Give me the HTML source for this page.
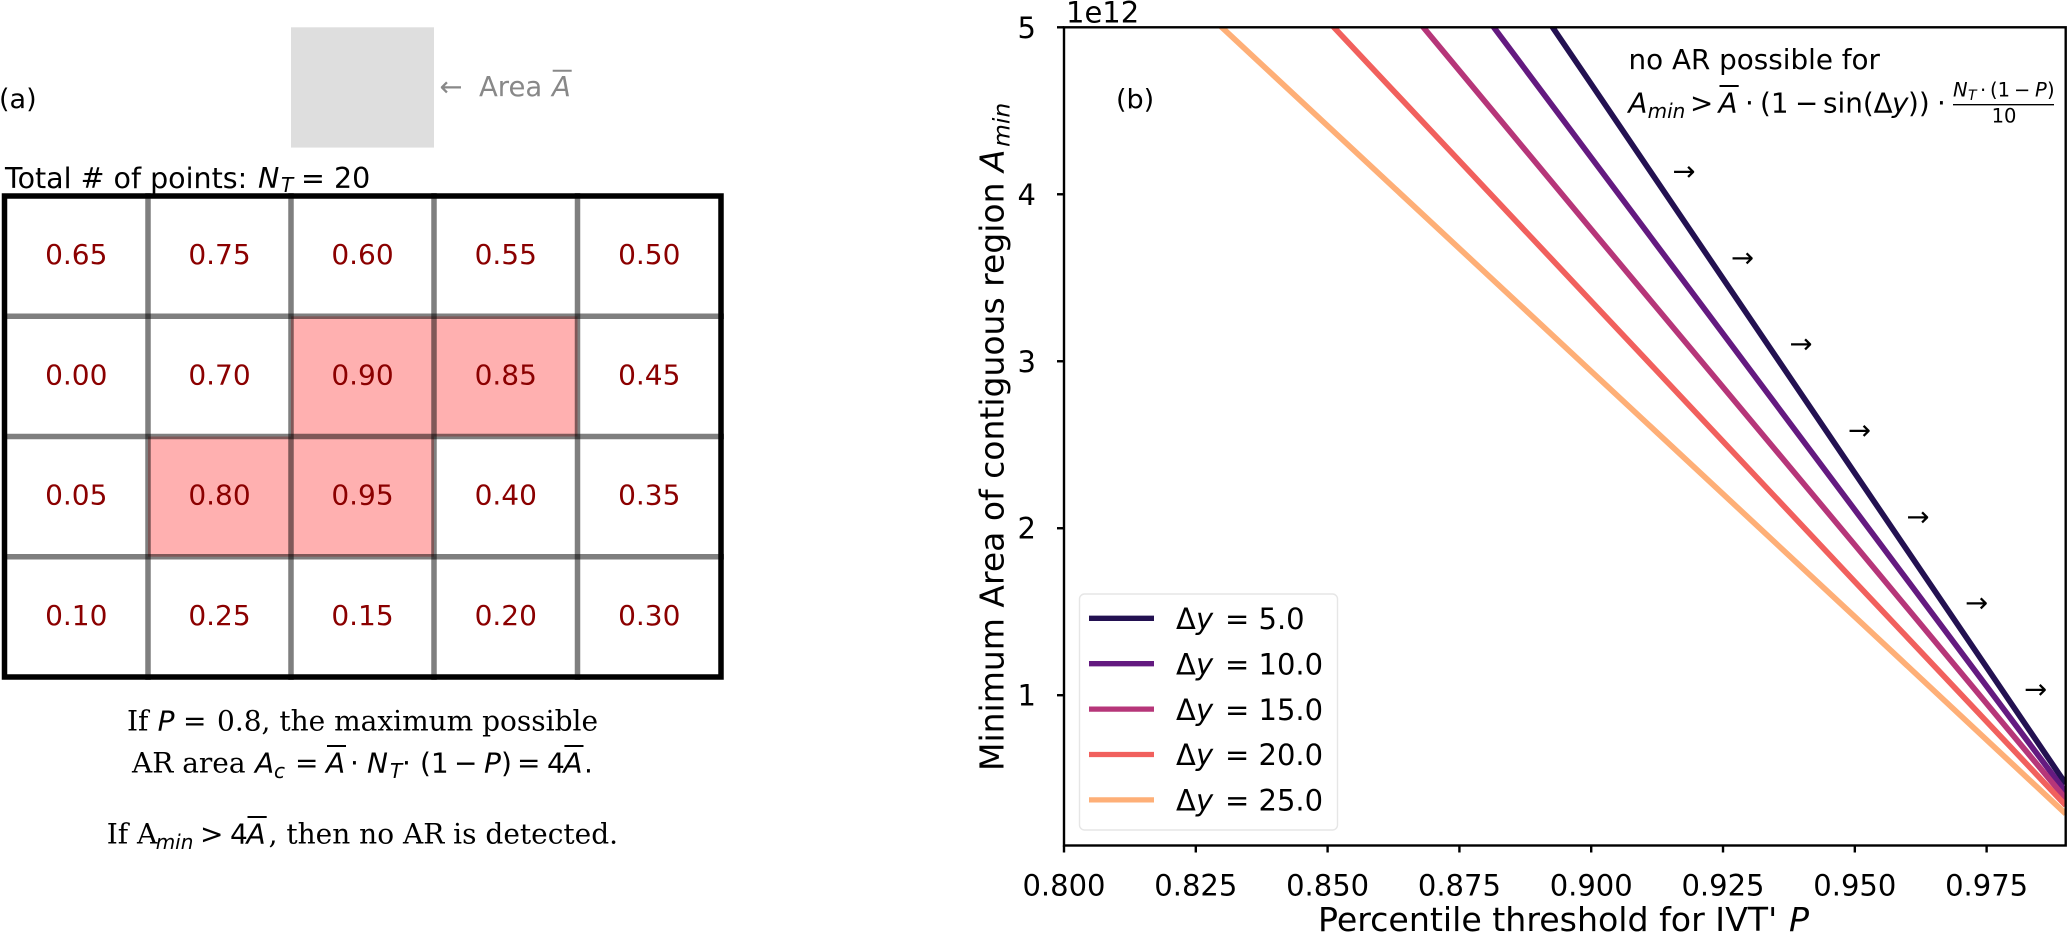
<!DOCTYPE html>
<html lang="en">
<head>
<meta charset="utf-8">
<title>AR area threshold diagram</title>
<style>
html,body{margin:0;padding:0;background:#fff;}
svg{display:block;}
text{font-family:"DejaVu Sans","Liberation Sans",sans-serif;fill:#000;}
.serif{font-family:"DejaVu Serif","Liberation Serif",serif;}
.it{font-style:italic;}
</style>
</head>
<body>
<svg id="fig" xmlns="http://www.w3.org/2000/svg" width="2067" height="934" viewBox="0 0 2067 934">
  <defs>
    <clipPath id="axes-clip"><rect x="1064" y="27.3" width="1001.7" height="818.2"/></clipPath>
  </defs>
  <rect x="0" y="0" width="2067" height="934" fill="#fff"/>

  <!-- Panel (a) -->
  <text x="-1" y="108" font-size="27">(a)</text>
  <rect x="291" y="27.3" width="143" height="120.3" fill="#dedede"/>
  <g fill="#888" font-size="27.5">
    <text x="451" y="96" text-anchor="middle" style="fill:#888">←</text>
    <text x="479" y="96" style="fill:#888">Area</text>
    <text class="it" x="552" y="96" style="fill:#888">A</text>
    <line x1="552.7" x2="571.7" y1="70.7" y2="70.7" stroke="#888" stroke-width="2"/>
  </g>
  <g font-size="28.5">
    <text x="5" y="188">Total # of points:</text>
    <text class="it" x="258" y="188">N</text>
    <text class="it" x="281" y="192" font-size="20">T</text>
    <text x="301" y="188" font-size="28.5">= 20</text>
  </g>
  <g id="grid-panel"></g>
  <g font-size="28">
    <text class="serif" x="127" y="730.7">If</text>
    <text class="it" x="157.6" y="730.7">P</text>
    <text x="183" y="730.7">=</text>
    <text class="serif" x="217" y="730.7">0.8, the maximum possible</text>
    <text class="serif" x="132" y="772.7">AR area</text>
    <text class="it" x="255" y="772.7">A</text>
    <text class="it" x="274" y="778" font-size="20">c</text>
    <text x="295" y="772.7">=</text>
    <text class="it" x="326" y="772.7">A</text>
    <line x1="327" x2="346" y1="746" y2="746" stroke="#000" stroke-width="2"/>
    <text x="350" y="772.7">·</text>
    <text class="it" x="367" y="772.7">N</text>
    <text class="it" x="390" y="778" font-size="20">T</text>
    <text x="402" y="772.7">·</text>
    <text x="420" y="772.7">(1</text>
    <text x="454" y="772.7">−</text>
    <text class="it" x="484" y="772.7">P</text>
    <text x="501" y="772.7">)</text>
    <text x="517" y="772.7">=</text>
    <text x="547" y="772.7">4</text>
    <text class="it" x="563.4" y="772.7">A</text>
    <line x1="564.4" x2="583.5" y1="746" y2="746" stroke="#000" stroke-width="2"/>
    <text x="584" y="772.7">.</text>
    <text class="serif" x="106.7" y="843.3">If A</text>
    <text class="it" x="155.7" y="849" font-size="20">min</text>
    <text x="200" y="843.3">&gt;</text>
    <text x="230" y="843.3">4</text>
    <text class="it" x="246.5" y="843.3">A</text>
    <line x1="247.5" x2="266.7" y1="817" y2="817" stroke="#000" stroke-width="2"/>
    <text class="serif" x="268.6" y="843.3">, then no AR is detected.</text>
  </g>

  <!-- Panel (b) -->
  <g id="plot-series" clip-path="url(#axes-clip)"></g>
  <g id="plot-arrows"></g>
  <g id="plot-ticks"></g>
  <rect x="1064" y="27.3" width="1001.7" height="818.2" fill="none" stroke="#000" stroke-width="2.4"/>
  <text x="1066" y="22.7" font-size="29">1e12</text>
  <text x="1116" y="108.7" font-size="27">(b)</text>
  <g transform="translate(1003.7,771) rotate(-90)" font-size="33">
    <text x="0" y="0">Minimum Area of contiguous region</text>
    <text class="it" x="599" y="0">A</text>
    <text class="it" x="624" y="6" font-size="23.5">min</text>
  </g>
  <g font-size="33.2">
    <text x="1318" y="931">Percentile threshold for IVT'</text>
    <text class="it" x="1789" y="931">P</text>
  </g>
  <g font-size="27.8">
    <text x="1628.5" y="69">no AR possible for</text>
    <text class="it" x="1628.4" y="112.7">A</text>
    <text class="it" x="1647.6" y="118" font-size="20">min</text>
    <text x="1690" y="112.7">&gt;</text>
    <text class="it" x="1718.5" y="112.7">A</text>
    <line x1="1719.5" x2="1738.7" y1="86" y2="86" stroke="#000" stroke-width="2"/>
    <text x="1745" y="112.7">·</text>
    <text x="1760" y="112.7">(1</text>
    <text x="1795" y="112.7">−</text>
    <text x="1823" y="112.7">sin(Δ</text>
    <text class="it" x="1892" y="112.7">y</text>
    <text x="1908" y="112.7">))</text>
    <text x="1937" y="112.7">·</text>
    <g font-size="19.5">
      <text class="it" x="1953" y="96.7">N</text>
      <text class="it" x="1968" y="100" font-size="14">T</text>
      <text x="1980" y="96.7">·</text>
      <text x="1990" y="96.7">(1</text>
      <text x="2014" y="96.7">−</text>
      <text class="it" x="2035" y="96.7">P</text>
      <text x="2047" y="96.7">)</text>
      <text x="2004" y="122.7" text-anchor="middle">10</text>
    </g>
    <line x1="1953" x2="2054" y1="104.7" y2="104.7" stroke="#000" stroke-width="1.4"/>
  </g>
  <g id="plot-legend"></g>
</svg>

<script>
// Panel (a) values, listed row by row
const gridValues = [
  ["0.65", "0.75", "0.60", "0.55", "0.50"],
  ["0.00", "0.70", "0.90", "0.85", "0.45"],
  ["0.05", "0.80", "0.95", "0.40", "0.35"],
  ["0.10", "0.25", "0.15", "0.20", "0.30"]
];
const highlightedCells = ["0.90", "0.85", "0.80", "0.95"];

// Panel (b) values
const percentile = [0.80, 0.85, 0.90, 0.95, 0.99];
const seriesLabels = ["5.0", "10.0", "15.0", "20.0", "25.0"];
const seriesDy5 = [9.31, 6.98, 4.66, 2.33, 0.47];
const seriesDy10 = [8.44, 6.33, 4.22, 2.11, 0.42];
const seriesDy15 = [7.58, 5.69, 3.79, 1.90, 0.38];
const seriesDy20 = [6.72, 5.04, 3.36, 1.68, 0.34];
const seriesDy25 = [5.88, 4.41, 2.94, 1.47, 0.29];
const seriesColors = ["#231151", "#641a80", "#b63679", "#f1605d", "#feaf77"];
const xTicks = [0.800, 0.825, 0.850, 0.875, 0.900, 0.925, 0.950, 0.975];
const yTicks = [1, 2, 3, 4, 5];
const arrowP = [0.9176, 0.9287, 0.9398, 0.9509, 0.9620, 0.9731, 0.9843];
const arrowA = [4.139, 3.622, 3.105, 2.588, 2.071, 1.554, 1.037];

const NS = "http://www.w3.org/2000/svg";
function make(tag, parent) {
  const el = document.createElementNS(NS, tag);
  parent.appendChild(el);
  return el;
}
function px(p) { return 1064 + (p - 0.8) / 0.19 * 1001.7; }
function py(a) { return 845.5 - (a - 0.1) / 4.9 * 818.2; }

// ---- Panel (a) grid ----
const gridGroup = document.getElementById("grid-panel");
const colX = [4.5, 148, 291, 434, 577.5, 721];
const rowY = [196, 316.3, 436.5, 556.7, 677];
gridValues.forEach(function (row, r) {
  row.forEach(function (value, c) {
    if (highlightedCells.indexOf(value) >= 0) {
      const cell = make("rect", gridGroup);
      
      
      cell.setAttribute("x", colX[c]);
      cell.setAttribute("y", rowY[r]);
      cell.setAttribute("width", colX[c + 1] - colX[c]);
      cell.setAttribute("height", rowY[r + 1] - rowY[r]);
      cell.setAttribute("fill", "#ffb0b0");
    }
  });
});
colX.slice(1, 5).forEach(function (x) {
  const l = make("line", gridGroup);
  
  
  l.setAttribute("x1", x);
  l.setAttribute("x2", x);
  l.setAttribute("y1", 193);
  l.setAttribute("y2", 680);
  l.setAttribute("stroke", "#000");
  l.setAttribute("stroke-opacity", "0.5");
  l.setAttribute("stroke-width", "5.5");
});
rowY.slice(1, 4).forEach(function (y) {
  const l = make("line", gridGroup);
  
  
  l.setAttribute("x1", 2);
  l.setAttribute("x2", 724);
  l.setAttribute("y1", y);
  l.setAttribute("y2", y);
  l.setAttribute("stroke", "#000");
  l.setAttribute("stroke-opacity", "0.5");
  l.setAttribute("stroke-width", "5.5");
});
const outer = make("rect", gridGroup);


outer.setAttribute("x", 4.5);
outer.setAttribute("y", 196);
outer.setAttribute("width", 716.5);
outer.setAttribute("height", 481);
outer.setAttribute("fill", "none");
outer.setAttribute("stroke", "#000");
outer.setAttribute("stroke-width", "5.5");
gridValues.forEach(function (row, r) {
  row.forEach(function (value, c) {
    const t = make("text", gridGroup);
    
    
    t.setAttribute("x", (colX[c] + colX[c + 1]) / 2);
    t.setAttribute("y", (rowY[r] + rowY[r + 1]) / 2 + 8);
    t.setAttribute("text-anchor", "middle");
    t.setAttribute("font-size", "28");
    t.style.fill = "#8b0000";
    t.textContent = value;
  });
});

// ---- Panel (b) series ----
const allSeries = [seriesDy5, seriesDy10, seriesDy15, seriesDy20, seriesDy25];
const seriesGroup = document.getElementById("plot-series");
allSeries.forEach(function (values, i) {
  const line = make("polyline", seriesGroup);
  
  
  line.setAttribute("points", values.map(function (a, j) {
    return px(percentile[j]).toFixed(2) + "," + py(a).toFixed(2);
  }).join(" "));
  line.setAttribute("fill", "none");
  line.setAttribute("stroke", seriesColors[i]);
  line.setAttribute("stroke-width", "5.7");
});

// ---- Arrows ----
const arrowGroup = document.getElementById("plot-arrows");
arrowP.forEach(function (p, i) {
  const t = make("text", arrowGroup);
  
  
  t.setAttribute("x", px(p));
  t.setAttribute("y", py(arrowA[i]) + 9.5);
  t.setAttribute("text-anchor", "middle");
  t.setAttribute("font-size", "27.5");
  t.textContent = "→";
});

// ---- Ticks ----
const tickGroup = document.getElementById("plot-ticks");
xTicks.forEach(function (v) {
  const tick = make("line", tickGroup);
  
  
  tick.setAttribute("x1", px(v));
  tick.setAttribute("x2", px(v));
  tick.setAttribute("y1", 845.5);
  tick.setAttribute("y2", 852.5);
  tick.setAttribute("stroke", "#000");
  tick.setAttribute("stroke-width", "2.4");
  const label = make("text", tickGroup);
  
  
  label.setAttribute("x", px(v));
  label.setAttribute("y", 895.7);
  label.setAttribute("text-anchor", "middle");
  label.setAttribute("font-size", "29");
  label.textContent = v.toFixed(3);
});
yTicks.forEach(function (v) {
  const tick = make("line", tickGroup);
  
  
  tick.setAttribute("x1", 1057);
  tick.setAttribute("x2", 1064);
  tick.setAttribute("y1", py(v));
  tick.setAttribute("y2", py(v));
  tick.setAttribute("stroke", "#000");
  tick.setAttribute("stroke-width", "2.4");
  const label = make("text", tickGroup);
  
  
  label.setAttribute("x", 1036);
  label.setAttribute("y", py(v) + 10.5);
  label.setAttribute("text-anchor", "end");
  label.setAttribute("font-size", "29");
  label.textContent = String(v);
});

// ---- Legend ----
const legendGroup = document.getElementById("plot-legend");
const legendBox = make("rect", legendGroup);


legendBox.setAttribute("x", 1079.5);
legendBox.setAttribute("y", 594);
legendBox.setAttribute("width", 258);
legendBox.setAttribute("height", 236);
legendBox.setAttribute("rx", 5);
legendBox.setAttribute("fill", "#fff");
legendBox.setAttribute("fill-opacity", "0.8");
legendBox.setAttribute("stroke", "#e6e6e6");
legendBox.setAttribute("stroke-width", "1.4");
seriesLabels.forEach(function (label, i) {
  const y = 618.3 + i * 45.4;
  const handle = make("line", legendGroup);
  
  
  handle.setAttribute("x1", 1089);
  handle.setAttribute("x2", 1154);
  handle.setAttribute("y1", y);
  handle.setAttribute("y2", y);
  handle.setAttribute("stroke", seriesColors[i]);
  handle.setAttribute("stroke-width", "5.3");
  const delta = make("text", legendGroup);
  
  
  delta.setAttribute("x", 1176);
  delta.setAttribute("y", y + 10.7);
  delta.setAttribute("font-size", "29");
  delta.textContent = "Δ";
  const yVar = make("text", legendGroup);
  
  
  yVar.setAttribute("x", 1196);
  yVar.setAttribute("y", y + 10.7);
  yVar.setAttribute("font-size", "29");
  yVar.setAttribute("font-style", "italic");
  yVar.textContent = "y";
  const valueText = make("text", legendGroup);
  
  
  valueText.setAttribute("x", 1225);
  valueText.setAttribute("y", y + 10.7);
  valueText.setAttribute("font-size", "29");
  valueText.textContent = "= " + label;
});
</script>
</body>
</html>
